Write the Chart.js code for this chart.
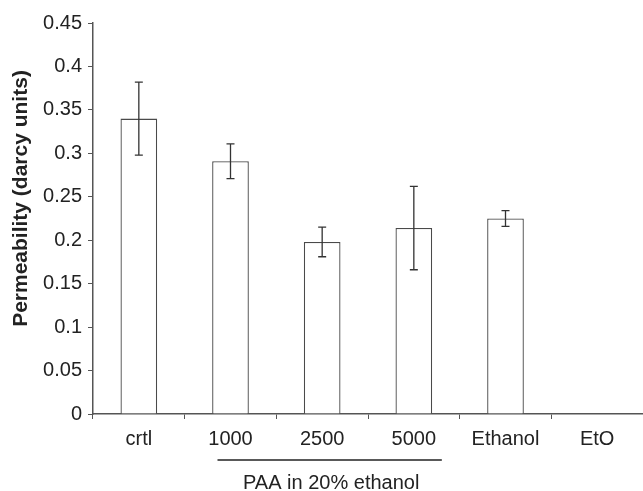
<!DOCTYPE html>
<html>
<head>
<meta charset="utf-8">
<script src="https://cdn.jsdelivr.net/npm/chart.js@4/dist/chart.umd.min.js"></script>
<style>
  html, body { margin: 0; padding: 0; background: #fff; }
  #wrap { width: 643px; height: 491px; }
</style>
</head>
<body>
<div id="wrap"><canvas id="permChart" width="643" height="491"></canvas></div>
<script>
// Données
const categories = ['crtl', '1000', '2500', '5000', 'Ethanol', 'EtO'];
const permeability = [0.340, 0.291, 0.198, 0.214, 0.225, null];
const errorSD = [0.042, 0.020, 0.017, 0.048, 0.009, null];
const yTitle = 'Permeability (darcy units)';
const groupLabel = 'PAA in 20% ethanol';
const groupFrom = 1; // index '1000'
const groupTo = 3;   // index '5000'

const FONT = 'Arial, "Liberation Sans", sans-serif';
const AXIS_COLOR = '#555';
const TEXT_COLOR = '#222';

// Barres d'erreur, titre de l'axe Y et accolade sous l'axe
const extrasPlugin = {
  id: 'extras',
  afterDatasetsDraw(chart) {
    const ctx = chart.ctx;
    const x = chart.scales.x;
    const y = chart.scales.y;
    ctx.save();
    ctx.strokeStyle = '#333';
    ctx.lineWidth = 1.3;
    permeability.forEach((v, i) => {
      if (v === null || errorSD[i] === null) return;
      const cx = x.getPixelForValue(i);
      const yTop = y.getPixelForValue(v + errorSD[i]);
      const yBot = y.getPixelForValue(v - errorSD[i]);
      ctx.beginPath();
      ctx.moveTo(cx, yTop); ctx.lineTo(cx, yBot);
      ctx.moveTo(cx - 4, yTop); ctx.lineTo(cx + 4, yTop);
      ctx.moveTo(cx - 4, yBot); ctx.lineTo(cx + 4, yBot);
      ctx.stroke();
    });
    ctx.restore();
  },
  afterDraw(chart) {
    const ctx = chart.ctx;
    const x = chart.scales.x;
    const area = chart.chartArea;

    // titre Y (un peu au-dessus du centre, comme sur l'original)
    ctx.save();
    ctx.fillStyle = TEXT_COLOR;
    ctx.font = 'bold 21px ' + FONT;
    ctx.textAlign = 'center';
    ctx.textBaseline = 'middle';
    ctx.translate(21, (area.top + area.bottom) / 2 - 20);
    ctx.rotate(-Math.PI / 2);
    ctx.fillText(yTitle, 0, 0);
    ctx.restore();

    const x1 = x.getPixelForValue(groupFrom) - 13;
    const x2 = x.getPixelForValue(groupTo) + 28;
    const lineY = area.bottom + 46;
    ctx.save();
    ctx.strokeStyle = '#222';
    ctx.lineWidth = 1.5;
    ctx.beginPath();
    ctx.moveTo(x1, lineY); ctx.lineTo(x2, lineY);
    ctx.stroke();
    ctx.fillStyle = TEXT_COLOR;
    ctx.font = '20px ' + FONT;
    ctx.textAlign = 'center';
    ctx.textBaseline = 'middle';
    ctx.fillText(groupLabel, (x.getPixelForValue(groupFrom) + x.getPixelForValue(groupTo)) / 2 + 9, lineY + 23);
    ctx.restore();
  }
};

const ctx = document.getElementById('permChart').getContext('2d');
new Chart(ctx, {
  type: 'bar',
  data: {
    labels: categories,
    datasets: [{
      label: 'Permeability',
      data: permeability,
      backgroundColor: '#fff',
      borderColor: '#4a4a4a',
      borderWidth: 1.3,
      borderSkipped: 'bottom',
      barPercentage: 0.4,
      categoryPercentage: 1.0
    }]
  },
  options: {
    responsive: false,
    animation: false,
    layout: { padding: { top: 23, right: 0, bottom: 0, left: 0 } },
    plugins: {
      legend: { display: false },
      tooltip: { enabled: false }
    },
    scales: {
      x: {
        offset: true,
        grid: {
          display: true,
          offset: true,
          drawOnChartArea: false,
          drawTicks: true,
          tickLength: 5,
          color: AXIS_COLOR
        },
        border: { display: true, color: AXIS_COLOR, width: 1.5 },
        ticks: {
          color: TEXT_COLOR,
          font: { family: FONT, size: 20 },
          padding: 8,
          maxRotation: 0
        },
        afterFit: s => { s.height = 77; }
      },
      y: {
        min: 0,
        max: 0.45,
        ticks: {
          stepSize: 0.05,
          color: TEXT_COLOR,
          font: { family: FONT, size: 20 },
          padding: 6,
          callback: v => String(Number(v.toFixed(2)))
        },
        grid: {
          display: true,
          drawOnChartArea: false,
          drawTicks: true,
          tickLength: 5,
          color: AXIS_COLOR
        },
        border: { display: true, color: AXIS_COLOR, width: 1.5 },
        title: { display: false },
        afterFit: s => { s.width = 93; }
      }
    }
  },
  plugins: [extrasPlugin]
});
</script>
</body>
</html>
